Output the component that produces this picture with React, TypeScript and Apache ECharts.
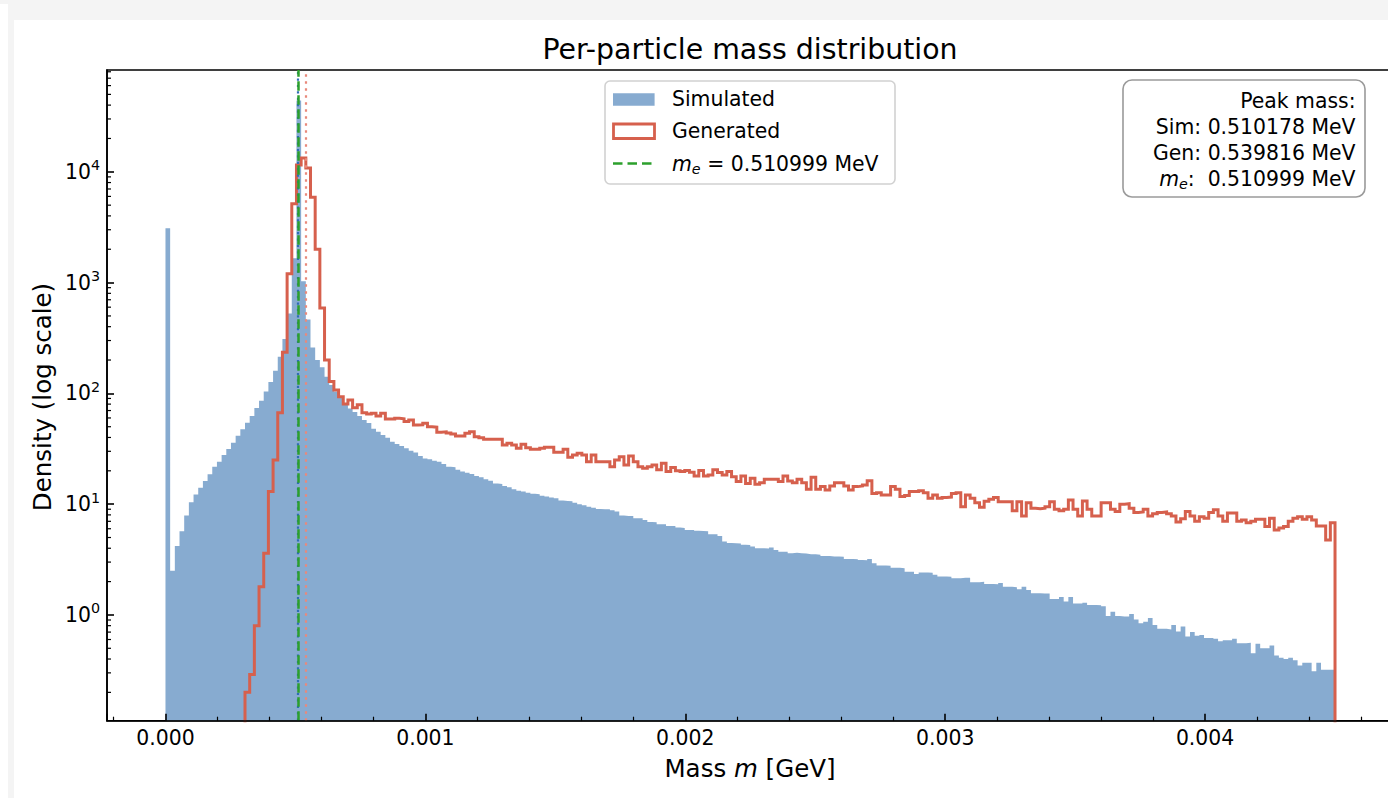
import React, { useEffect, useRef } from 'react';
import * as echarts from 'echarts';

// ---------- data ----------
const BIN_START = 0; // GeV
const BIN_END = 0.0045; // GeV
const N_BINS = 250;

const SIM_DENSITY = [
  3100, 2.5, 4.2, 5.7, 7.9, 10.4, 12.2, 14.1, 16.2, 18.6,
  21.8, 24.2, 27.8, 31.5, 35.9, 41.5, 47.4, 54.4, 62.5, 73.8,
  85.9, 104, 127, 160, 214, 310, 525, 1660, 44000, 1030,
  465, 260, 200, 172, 141, 119, 104, 93, 81, 73,
  68, 62.5, 57.5, 54, 48, 45, 42, 39.8, 36.6, 34.9,
  33.5, 31.9, 30.4, 29.2, 27.2, 25.8, 25.4, 24.7, 24.2, 23.1,
  21.8, 21.5, 20.4, 19.7, 19.2, 18.7, 18.0, 17.5, 16.8, 16.3,
  15.4, 15.2, 14.6, 14.2, 13.6, 13.2, 13.0, 12.7, 12.4, 12.3,
  11.9, 11.7, 11.5, 11.3, 10.8, 10.7, 10.6, 10.3, 10.0, 9.8,
  9.5, 9.3, 9.05, 9.0, 9.0, 8.8, 8.6, 7.9, 7.8, 7.8,
  7.45, 7.45, 7.2, 6.9, 6.85, 6.6, 6.6, 6.35, 6.35, 6.15,
  6.1, 5.85, 5.85, 5.75, 5.72, 5.7, 5.35, 5.35, 5.16, 4.6,
  4.45, 4.44, 4.42, 4.3, 4.28, 4.14, 4.0, 4.0, 3.98, 4.07,
  3.86, 3.72, 3.72, 3.6, 3.65, 3.6, 3.58, 3.53, 3.53, 3.5,
  3.41, 3.4, 3.37, 3.37, 3.36, 3.2, 3.2, 3.18, 3.13, 3.12,
  3.2, 2.93, 2.8, 2.79, 2.78, 2.67, 2.67, 2.64, 2.46, 2.46,
  2.34, 2.42, 2.42, 2.4, 2.3, 2.22, 2.22, 2.21, 2.14, 2.14,
  2.17, 2.17, 1.97, 1.97, 1.99, 1.9, 1.9, 1.89, 1.94, 1.8,
  1.8, 1.78, 1.71, 1.8, 1.68, 1.57, 1.57, 1.56, 1.56, 1.39,
  1.39, 1.45, 1.32, 1.45, 1.27, 1.27, 1.29, 1.23, 1.23, 1.22,
  1.2, 0.98, 1.07, 0.98, 0.97, 0.97, 1.02, 0.91, 0.84, 0.87,
  0.94, 0.81, 0.75, 0.75, 0.74, 0.81, 0.71, 0.785, 0.64, 0.7,
  0.65, 0.66, 0.62, 0.62, 0.61, 0.58, 0.59, 0.59, 0.61, 0.555,
  0.555, 0.56, 0.45, 0.55, 0.5, 0.5, 0.53, 0.43, 0.41, 0.4,
  0.41, 0.39, 0.35, 0.37, 0.37, 0.31, 0.37, 0.32, 0.32, 0.32,
];

const GEN_DENSITY = [
  0, 0, 0, 0, 0, 0, 0, 0, 0, 0,
  0, 0, 0, 0, 0, 0, 0, 0.2, 0.29, 0.8,
  1.8, 3.6, 13, 25, 67, 235, 1200, 5150, 11500, 13300,
  10800, 5900, 2000, 590, 200, 128, 107, 93, 80, 87,
  74, 79, 67, 65, 66, 62.5, 66, 58.7, 58.7, 59.6,
  59, 55.6, 57.5, 51.9, 52, 53.7, 50, 49.5, 44.6, 45,
  44, 43, 41.3, 41.3, 43.6, 45.1, 40.7, 39.8, 38.5, 38.6,
  38.6, 38.6, 34.2, 35.4, 34.2, 31.9, 34.7, 32.3, 31.3, 31.3,
  31.9, 32.6, 32.6, 29.4, 29.4, 31.3, 26.5, 27.8, 28.8, 27.8,
  24.2, 27.8, 24.2, 24.2, 24.2, 21.8, 25, 26.8, 22.6, 27.2,
  24.2, 21.8, 21.1, 21.8, 22.6, 20.4, 23.4, 19.7, 21.4, 20.0,
  19.7, 20.1, 19.4, 18.0, 20.1, 18.0, 18.3, 20.4, 19.3, 18.3,
  19.7, 17.7, 16.0, 18.0, 15.4, 17.1, 15.1, 15.6, 16.8, 16.8,
  16.8, 16.0, 18.0, 16.2, 15.6, 16.8, 15.6, 13.6, 17.5, 13.6,
  14.4, 13.4, 14.6, 15.6, 15.6, 14.6, 13.4, 14.4, 14.6, 14.9,
  16.3, 12.5, 12.7, 12.1, 12.1, 14.4, 13.6, 11.7, 12.0, 13.0,
  13.0, 13.2, 12.7, 11.3, 12.1, 11.3, 11.5, 11.6, 12.5, 12.7,
  9.5, 12.1, 11.3, 10.3, 9.4, 10.6, 11.1, 11.5, 10.5, 10.5,
  10.5, 8.7, 10.5, 7.8, 10.3, 9.2, 9.1, 9.2, 9.5, 10.5,
  9.0, 8.7, 9.0, 10.9, 9.0, 7.8, 10.7, 9.0, 7.8, 7.8,
  10.3, 10.3, 9.0, 8.6, 10.0, 10.1, 9.2, 8.4, 8.5, 9.0,
  7.8, 8.2, 8.4, 8.5, 8.2, 7.8, 6.9, 7.4, 8.6, 7.8,
  7.0, 7.7, 7.45, 8.4, 8.9, 7.8, 7.0, 8.3, 8.3, 7.0,
  7.2, 6.8, 7.0, 7.3, 7.3, 6.3, 7.45, 5.85, 6.1, 6.3,
  7.0, 7.45, 7.7, 7.3, 7.7, 7.2, 6.35, 6.35, 4.75, 6.8,
];

const M_E = 0.000510999; // GeV
const SIM_PEAK = 0.000510178; // GeV
const GEN_PEAK = 0.000539816; // GeV

const X_MIN = -0.000225;
const X_MAX = 0.004725;
const Y_MIN = 0.111;
const Y_MAX = 83000;

const X_TICK_LABELS = ['0.000', '0.001', '0.002', '0.003', '0.004'];
const Y_TICK_EXPONENTS = [0, 1, 2, 3, 4];

const TITLE = 'Per-particle mass distribution';
const LEGEND_LABELS = ['Simulated', 'Generated'];
const INFO_LINES = ['Peak mass:', 'Sim: 0.510178 MeV', 'Gen: 0.539816 MeV'];
const INFO_ME = '0.510999 MeV';

// ---------- styles ----------
const FONT = 'DejaVu Sans';
const SIM_COLOR = '#87abd0';
const GEN_COLOR = '#d6604d';
const ME_COLOR = '#2ca02c';
const SIM_PEAK_COLOR = '#2f6db5';
const GEN_PEAK_COLOR = '#e9897b';

function meText() {
  return (M_E * 1000).toFixed(6) + ' MeV';
}

function buildOption() {
  const binWidth = (BIN_END - BIN_START) / N_BINS;
  const edge = (k: number) => BIN_START + k * binWidth;

  const simPoints: number[][] = SIM_DENSITY.map((v, k) => [edge(k), v]);
  simPoints.push([edge(N_BINS), SIM_DENSITY[N_BINS - 1]]);

  const floor = Y_MIN / 4;
  const first = GEN_DENSITY.findIndex((v) => v > 0);
  const genPoints: number[][] = [[edge(first), floor]];
  for (let k = first; k < N_BINS; k++) genPoints.push([edge(k), GEN_DENSITY[k]]);
  genPoints.push([edge(N_BINS), GEN_DENSITY[N_BINS - 1]]);
  genPoints.push([edge(N_BINS), floor]);

  const minorY: number[][] = [];
  for (let n = -1; n <= 5; n++) {
    for (let m = 2; m <= 9; m++) {
      const v = m * Math.pow(10, n);
      if (v > Y_MIN && v < Y_MAX) minorY.push([X_MIN, v]);
    }
  }

  const base = { fontFamily: FONT, fontSize: 20.4, fill: '#000' };
  const meRich = {
    i: { fontFamily: FONT, fontSize: 20.4, fontStyle: 'italic', fill: '#000', lineHeight: 24 },
    s: { fontFamily: FONT, fontSize: 14.3, fontStyle: 'italic', fill: '#000', lineHeight: 10, verticalAlign: 'bottom' },
    n: { fontFamily: FONT, fontSize: 20.4, fill: '#000', lineHeight: 24 },
  };

  return {
    animation: false,
    backgroundColor: 'transparent',
    textStyle: { fontFamily: FONT },
    grid: {
      left: 107,
      top: 70,
      right: 6.5,
      bottom: 77.3,
      show: true,
      borderColor: '#000',
      borderWidth: 1.6,
      backgroundColor: 'transparent',
      containLabel: false,
      outerBoundsMode: 'none',
    },
    xAxis: {
      type: 'value',
      min: X_MIN,
      max: X_MAX,
      z: 5,
      axisLine: { show: true, onZero: false, lineStyle: { color: '#000', width: 1.6 } },
      axisTick: { show: true, inside: true, length: 7, lineStyle: { color: '#000', width: 1.6 } },
      minorTick: { show: true, splitNumber: 5, length: 4, lineStyle: { color: '#000', width: 1.2 } },
      splitLine: { show: false },
      minorSplitLine: { show: false },
      axisLabel: {
        show: true,
        margin: 7,
        color: '#000',
        fontSize: 20.4,
        fontFamily: FONT,
        showMinLabel: false,
        showMaxLabel: false,
        formatter: (v: number) => {
          const s = v.toFixed(3);
          return X_TICK_LABELS.includes(s) && Math.abs(v - parseFloat(s)) < 1e-9 ? s : '';
        },
      },
    },
    yAxis: {
      type: 'log',
      logBase: 10,
      min: Y_MIN,
      max: Y_MAX,
      z: 5,
      axisLine: { show: true, onZero: false, lineStyle: { color: '#000', width: 1.6 } },
      axisTick: { show: true, inside: true, length: 7, lineStyle: { color: '#000', width: 1.6 } },
      splitLine: { show: false },
      axisLabel: {
        show: true,
        margin: 7,
        color: '#000',
        fontFamily: FONT,
        showMinLabel: false,
        showMaxLabel: false,
        formatter: (v: number) => {
          const e = Math.log10(v);
          const r = Math.round(e);
          if (Math.abs(e - r) < 1e-6 && Y_TICK_EXPONENTS.includes(r)) return `{b|10}{s|${r}}`;
          return '';
        },
        rich: {
          b: { fontSize: 20.4, fontFamily: FONT, color: '#000', lineHeight: 27 },
          s: { fontSize: 14.3, fontFamily: FONT, color: '#000', lineHeight: 15, verticalAlign: 'top' },
        },
      },
    },
    series: [
      {
        name: 'Simulated',
        type: 'line',
        step: 'end',
        data: simPoints,
        symbol: 'none',
        showSymbol: false,
        silent: true,
        z: 2,
        lineStyle: { width: 0, opacity: 0 },
        areaStyle: { color: SIM_COLOR, opacity: 1, origin: 'start' },
      },
      {
        name: 'Generated',
        type: 'line',
        step: 'end',
        data: genPoints,
        symbol: 'none',
        showSymbol: false,
        silent: true,
        clip: true,
        z: 3,
        lineStyle: { color: GEN_COLOR, width: 3, join: 'miter', cap: 'butt' },
        markLine: {
          silent: true,
          precision: 12,
          symbol: ['none', 'none'],
          label: { show: false },
          animation: false,
          data: [
            { xAxis: SIM_PEAK, lineStyle: { color: SIM_PEAK_COLOR, type: [2.2, 4.2], width: 2.2 } },
            { xAxis: GEN_PEAK, lineStyle: { color: GEN_PEAK_COLOR, type: [2.4, 4.6], width: 2.2 } },
            { xAxis: M_E, lineStyle: { color: ME_COLOR, type: [9.5, 4.5], width: 2.5 } },
          ],
        },
      },
      {
        name: 'yMinorTicks',
        type: 'custom',
        silent: true,
        z: 6,
        data: minorY,
        renderItem: (_params: any, api: any) => {
          const p = api.coord([api.value(0), api.value(1)]);
          return {
            type: 'line',
            shape: { x1: p[0], y1: p[1], x2: p[0] + 4, y2: p[1] },
            style: { stroke: '#000', lineWidth: 1.2 },
          };
        },
      },
    ],
    graphic: {
      elements: [
        {
          type: 'text',
          x: 750,
          y: 49.5,
          style: { text: TITLE, fontFamily: FONT, fontSize: 28.4, fill: '#000', align: 'center', verticalAlign: 'middle' },
        },
        {
          type: 'text',
          x: 750,
          y: 768,
          style: {
            text: '{n|Mass }{i|m}{n| [GeV]}',
            align: 'center',
            verticalAlign: 'middle',
            rich: {
              n: { fontFamily: FONT, fontSize: 24.5, fill: '#000' },
              i: { fontFamily: FONT, fontSize: 24.5, fontStyle: 'italic', fill: '#000' },
            },
          },
        },
        {
          type: 'text',
          x: 42,
          y: 397,
          rotation: Math.PI / 2,
          style: { text: 'Density (log scale)', fontFamily: FONT, fontSize: 24.5, fill: '#000', align: 'center', verticalAlign: 'middle' },
        },
        // legend
        {
          type: 'rect',
          shape: { x: 605, y: 81, width: 290, height: 103, r: 5 },
          style: { fill: '#ffffff', stroke: '#cccccc', lineWidth: 1.6, opacity: 0.9 },
          z: 10,
        },
        {
          type: 'rect',
          shape: { x: 613, y: 93.3, width: 41.6, height: 12.4 },
          style: { fill: SIM_COLOR },
          z: 11,
        },
        {
          type: 'rect',
          shape: { x: 613.5, y: 124, width: 41, height: 14.5 },
          style: { fill: '#ffffff', stroke: GEN_COLOR, lineWidth: 2.8 },
          z: 11,
        },
        {
          type: 'line',
          shape: { x1: 613, y1: 163.5, x2: 655, y2: 163.5 },
          style: { stroke: ME_COLOR, lineWidth: 2.5, lineDash: [9.5, 5] },
          z: 11,
        },
        {
          type: 'text',
          x: 672,
          y: 99,
          z: 11,
          style: { ...base, text: LEGEND_LABELS[0], align: 'left', verticalAlign: 'middle' },
        },
        {
          type: 'text',
          x: 672,
          y: 130.5,
          z: 11,
          style: { ...base, text: LEGEND_LABELS[1], align: 'left', verticalAlign: 'middle' },
        },
        {
          type: 'text',
          x: 672,
          y: 164,
          z: 11,
          style: {
            text: '{i|m}{s|e}{n| = ' + meText() + '}',
            align: 'left',
            verticalAlign: 'middle',
            rich: meRich,
          },
        },
        // info box
        {
          type: 'rect',
          shape: { x: 1123, y: 80, width: 242, height: 117, r: 9 },
          style: { fill: '#ffffff', stroke: '#9a9a9a', lineWidth: 1.6 },
          z: 10,
        },
        {
          type: 'text',
          x: 1355.5,
          y: 100.7,
          z: 11,
          style: { ...base, text: INFO_LINES[0], align: 'right', verticalAlign: 'middle' },
        },
        {
          type: 'text',
          x: 1355.5,
          y: 127.3,
          z: 11,
          style: { ...base, text: INFO_LINES[1], align: 'right', verticalAlign: 'middle' },
        },
        {
          type: 'text',
          x: 1355.5,
          y: 153,
          z: 11,
          style: { ...base, text: INFO_LINES[2], align: 'right', verticalAlign: 'middle' },
        },
        {
          type: 'text',
          x: 1355.5,
          y: 178.7,
          z: 11,
          style: {
            text: '{i|m}{s|e}{n|: \u00a0' + INFO_ME + '}',
            align: 'right',
            verticalAlign: 'middle',
            rich: meRich,
          },
        },
      ],
    },
  };
}

export default function App() {
  const ref = useRef<HTMLDivElement>(null);
  useEffect(() => {
    if (!ref.current) return;
    const chart = echarts.init(ref.current, null, { renderer: 'svg' });
    chart.setOption(buildOption() as any);
    return () => {
      chart.dispose();
    };
  }, []);
  return (
    <div style={{ position: 'fixed', left: 0, top: 0, right: 0, bottom: 0, overflow: 'hidden', background: '#f4f4f4' }}>
      <div style={{ position: 'absolute', left: 0, top: 4, width: 8, bottom: 0, background: '#ffffff' }} />
      <div style={{ position: 'absolute', left: 14, top: 20, right: 0, bottom: 0, background: '#ffffff' }} />
      <div ref={ref} style={{ position: 'absolute', left: 0, top: 0, width: 1400, height: 798 }} />
    </div>
  );
}
